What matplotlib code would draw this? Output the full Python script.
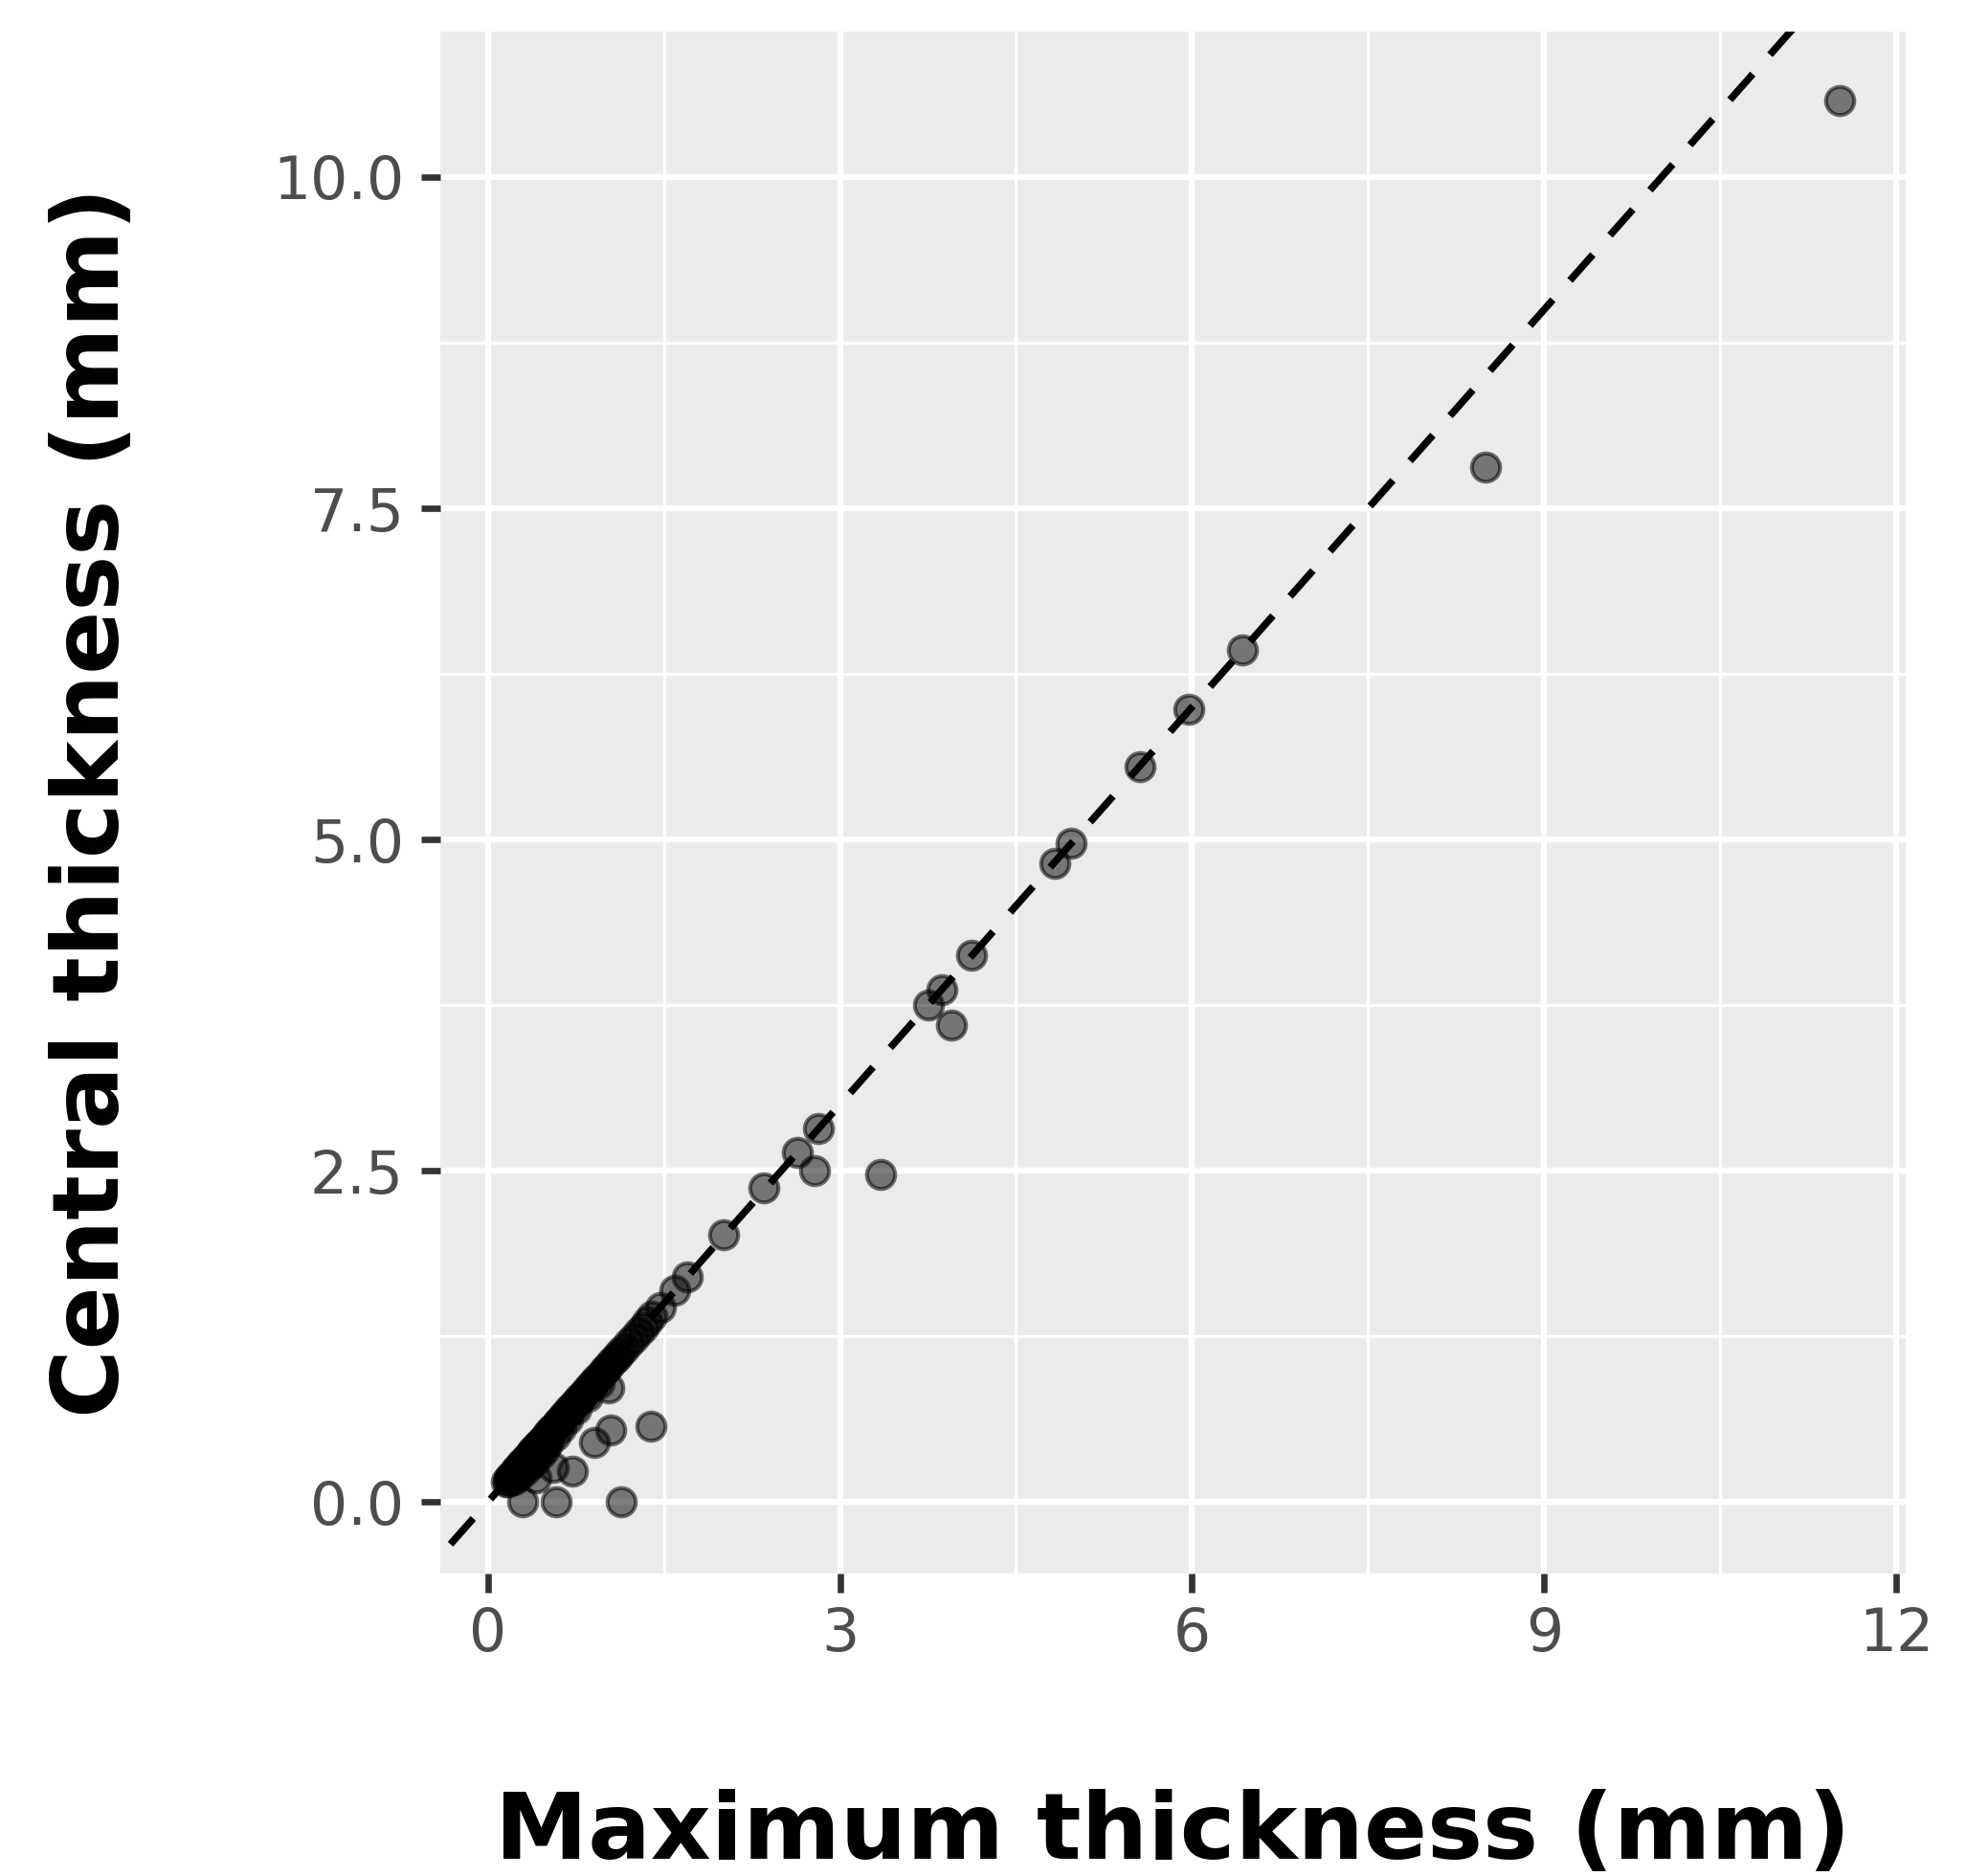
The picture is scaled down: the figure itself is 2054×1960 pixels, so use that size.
import matplotlib
matplotlib.use("Agg")
import matplotlib.pyplot as plt
from matplotlib.ticker import FixedLocator

# Isolated points
max_main = [11.52, 8.50, 6.43, 5.97, 5.56, 4.97, 4.83, 4.12, 3.87, 3.75, 3.95,
            3.35, 2.82, 2.64, 2.78, 2.35, 2.01, 1.70, 1.59, 1.39, 1.14, 1.05,
            0.91, 1.03, 0.72, 0.58, 0.30, 0.56, 0.41, 0.17]
cen_main = [10.58, 7.81, 6.43, 5.98, 5.55, 4.97, 4.82, 4.13, 3.87, 3.75, 3.60,
            2.47, 2.82, 2.64, 2.50, 2.37, 2.02, 1.70, 1.60, 0.57, 0.00, 0.54,
            0.45, 0.86, 0.23, 0.00, 0.00, 0.26, 0.18, 0.15]

# Dense cluster along the diagonal near the origin
max_cluster = [0.16, 0.18, 0.19, 0.20, 0.21, 0.22, 0.23, 0.24, 0.25, 0.26,
               0.27, 0.28, 0.29, 0.30, 0.31, 0.32, 0.33, 0.34, 0.35, 0.36,
               0.37, 0.38, 0.39, 0.40, 0.41, 0.42, 0.43, 0.44, 0.45, 0.46,
               0.47, 0.48, 0.50, 0.51, 0.52, 0.54, 0.55, 0.56, 0.58, 0.60,
               0.61, 0.63, 0.65, 0.66, 0.68, 0.70, 0.72, 0.74, 0.76, 0.78,
               0.80, 0.82, 0.84, 0.86, 0.88, 0.90, 0.92, 0.95, 0.98, 1.00,
               1.02, 1.05, 1.08, 1.10, 1.13, 1.16, 1.20, 1.24, 1.28, 1.32,
               1.36, 1.40, 1.47,
               0.22, 0.25, 0.28, 0.33, 0.36, 0.40, 0.45, 0.48, 0.52, 0.57,
               0.62, 0.30, 0.35, 0.43, 0.50, 0.68, 0.75, 0.85, 0.95]
cen_cluster = [0.15, 0.18, 0.17, 0.20, 0.19, 0.22, 0.21, 0.24, 0.25, 0.24,
               0.27, 0.28, 0.27, 0.30, 0.30, 0.32, 0.33, 0.32, 0.35, 0.36,
               0.36, 0.38, 0.39, 0.40, 0.40, 0.42, 0.43, 0.43, 0.45, 0.46,
               0.46, 0.48, 0.50, 0.50, 0.52, 0.54, 0.55, 0.55, 0.58, 0.60,
               0.60, 0.63, 0.65, 0.66, 0.68, 0.70, 0.72, 0.74, 0.76, 0.78,
               0.80, 0.82, 0.84, 0.86, 0.88, 0.90, 0.92, 0.95, 0.98, 1.00,
               1.02, 1.05, 1.08, 1.10, 1.13, 1.16, 1.20, 1.24, 1.28, 1.32,
               1.36, 1.40, 1.47,
               0.17, 0.19, 0.21, 0.25, 0.28, 0.31, 0.36, 0.40, 0.45, 0.50,
               0.56, 0.26, 0.30, 0.38, 0.45, 0.62, 0.70, 0.80, 0.90]

xticks = [0, 3, 6, 9, 12]
yticks = [0.0, 2.5, 5.0, 7.5, 10.0]
ytick_labels = ["0.0", "2.5", "5.0", "7.5", "10.0"]
xlabel = "Maximum thickness (mm)"
ylabel = "Central thickness (mm)"

plt.rcParams['font.family'] = ['DejaVu Sans']

fig = plt.figure(figsize=(2054 / 300, 1960 / 300), dpi=300)
ax = fig.add_axes([459.5 / 2054, 1 - 1644 / 1960, (1991 - 459.5) / 2054, (1644 - 32.7) / 1960])
ax.set_facecolor('#EBEBEB')
for s in ax.spines.values():
    s.set_visible(False)

ax.set_xlim(-0.409, 12.08)
ax.set_ylim(-0.54, 11.10)

ax.xaxis.set_major_locator(FixedLocator(xticks))
ax.yaxis.set_major_locator(FixedLocator(yticks))
ax.xaxis.set_minor_locator(FixedLocator([1.5, 4.5, 7.5, 10.5]))
ax.yaxis.set_minor_locator(FixedLocator([1.25, 3.75, 6.25, 8.75]))
ax.set_yticklabels(ytick_labels)
ax.set_xticklabels([str(t) for t in xticks])

ax.grid(which='major', color='white', linewidth=1.5)
ax.grid(which='minor', color='white', linewidth=0.75)
ax.set_axisbelow(True)

ax.tick_params(which='major', length=4.8, width=1.6, color='#333333',
               labelcolor='#4D4D4D', labelsize=14.8)
ax.tick_params(axis='x', which='major', pad=3.4)
ax.tick_params(axis='y', which='major', pad=4.2)
ax.tick_params(which='minor', length=0)

# identity line
line, = ax.plot([-1, 13], [-1, 13], color='black', linewidth=1.8, zorder=2)
line.set_dashes([4.8, 3.6])
line.set_dash_capstyle('butt')

xs = max_cluster + max_main
ys = cen_cluster + cen_main
ax.scatter(xs, ys, s=50, facecolors=(0, 0, 0, 0.5), edgecolors=(0, 0, 0, 0.55),
           linewidths=1.0, zorder=3)

fig.text((459.5 + 1991) / 2 / 2054, 1 - 1942 / 1960, xlabel, ha='center', va='baseline',
         fontsize=23.4, fontweight='bold', color='black')
fig.text(98 / 2054, 1 - 838 / 1960, ylabel, ha='center', va='center', rotation=90,
         fontsize=23.4, fontweight='bold', color='black')

fig.savefig('out.png', dpi=300)
